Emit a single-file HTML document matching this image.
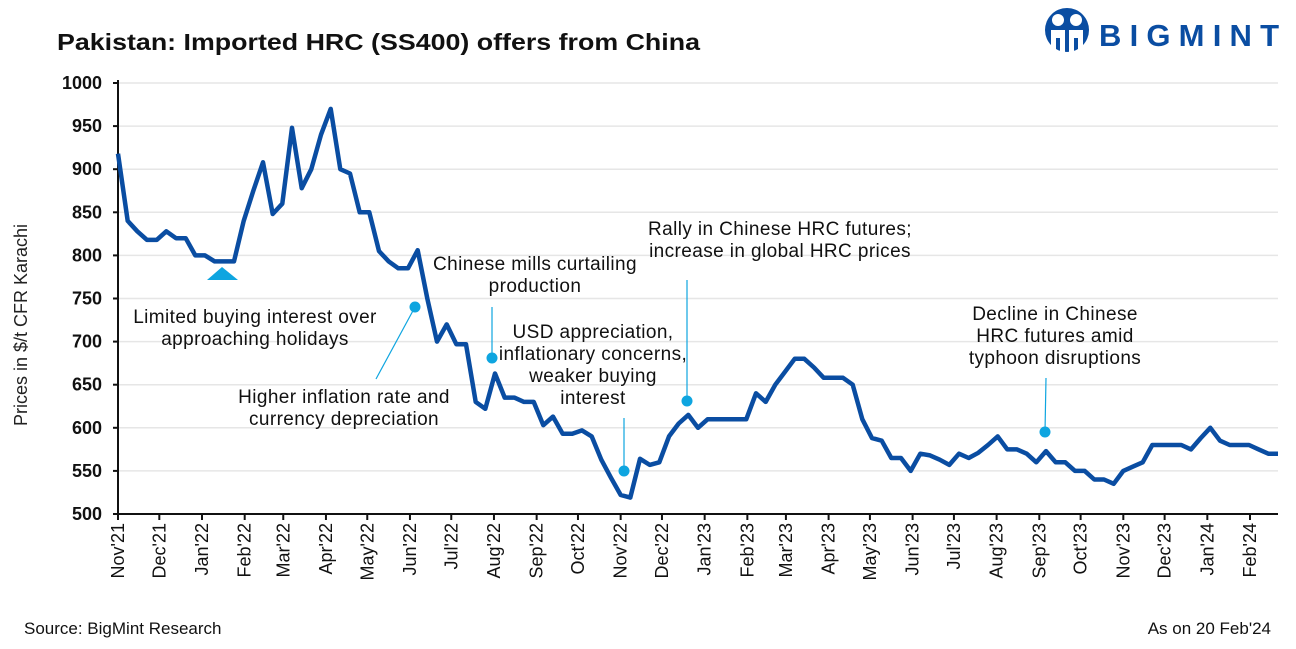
<!DOCTYPE html>
<html><head><meta charset="utf-8"><style>
html,body{margin:0;background:#fff;overflow:hidden;width:1296px;height:649px;}
svg{display:block;font-family:"Liberation Sans",sans-serif;}
</style></head><body>
<svg id="chart" width="1296" height="649" viewBox="0 0 1296 649">
<text x="57" y="50" font-size="23" font-weight="bold" fill="#111" textLength="643" lengthAdjust="spacingAndGlyphs">Pakistan: Imported HRC (SS400) offers from China</text>
<g>
<circle cx="1067" cy="30" r="22" fill="#0a4da2"/>
<circle cx="1058" cy="20" r="6" fill="#fff"/><circle cx="1076" cy="20" r="6" fill="#fff"/>
<path d="M1051 30 h14 v22 h-5 v-14 h-4 v14 h-5z M1069 30 h14 v22 h-5 v-14 h-4 v14 h-5z" fill="#fff"/>
<text x="1099" y="46" font-size="31" font-weight="bold" fill="#0a4da2" textLength="180" lengthAdjust="spacing">BIGMINT</text>
</g>
<text transform="translate(27,325) rotate(-90)" text-anchor="middle" font-size="18" fill="#222">Prices in $/t CFR Karachi</text>
<g id="grid"></g><g id="yticks"></g><g id="xticks"></g>
<g id="annots"></g>
<path id="line" fill="none" stroke="#0a4da2" stroke-width="4.5" stroke-linejoin="round"/>
<text x="24" y="634" font-size="17" fill="#111">Source: BigMint Research</text>
<text x="1271" y="634" font-size="17" fill="#111" text-anchor="end">As on 20 Feb'24</text>
</svg>
<script>
const prices=[918,840,828,818,818,828,820,820,800,800,793,793,793,840,875,908,848,860,948,878,900,940,970,900,895,850,850,805,793,785,785,806,750,700,720,697,697,630,622,663,635,635,630,630,603,613,593,593,597,590,563,542,522,519,564,557,560,590,605,615,600,610,610,610,610,610,640,630,650,665,680,680,670,658,658,658,650,610,588,585,565,565,550,570,568,563,557,570,565,571,580,590,575,575,570,560,573,560,560,550,550,540,540,535,550,555,560,580,580,580,580,575,588,600,585,580,580,580,575,570,570];
const yTicks=[500,550,600,650,700,750,800,850,900,950,1000];
const monthLabels=["Nov'21","Dec'21","Jan'22","Feb'22","Mar'22","Apr'22","May'22","Jun'22","Jul'22","Aug'22","Sep'22","Oct'22","Nov'22","Dec'22","Jan'23","Feb'23","Mar'23","Apr'23","May'23","Jun'23","Jul'23","Aug'23","Sep'23","Oct'23","Nov'23","Dec'23","Jan'24","Feb'24"];
const monthDays=[0,30,61,92,120,151,181,212,242,273,304,334,365,395,426,457,485,516,546,577,607,638,669,699,730,760,791,822];
const X0=118,X1=1278,Y0=514,Y1=83;
const STEP=(X1-X0)/(prices.length-1);
const y=v=>Y0-(v-500)/500*(Y0-Y1);
const xi=i=>X0+i*STEP;
const xd=d=>X0+d*9.64/7;
const NS="http://www.w3.org/2000/svg";
function mk(tag,attrs,parent,txt){const e=document.createElementNS(NS,tag);for(const k in attrs)e.setAttribute(k,attrs[k]);if(txt!==undefined)e.textContent=txt;parent.appendChild(e);return e;}
const g=document.getElementById('grid'),yt=document.getElementById('yticks'),xt=document.getElementById('xticks'),an=document.getElementById('annots');
yTicks.forEach(v=>{
 if(v>500){const l=mk('line',{x1:X0,x2:X1,y1:y(v),y2:y(v),stroke:'#e6e6e6','stroke-width':1.5},g);
 
 }
 const t=mk('line',{x1:X0-5,x2:X0,y1:y(v),y2:y(v),stroke:'#111','stroke-width':2},yt);
 
 
 const tx=mk('text',{x:102,y:y(v)+6,'text-anchor':'end','font-size':18,'font-weight':'bold',fill:'#111'},yt,String(v));
 
 
});
const ya=mk('line',{x1:X0,x2:X0,y1:Y1-3,y2:Y0,stroke:'#111','stroke-width':2},yt);


const xa=mk('line',{x1:X0,x2:X1,y1:Y0,y2:Y0,stroke:'#111','stroke-width':2},xt);


monthLabels.forEach((m,i)=>{const x=xd(monthDays[i]);
 const t=mk('line',{x1:x,x2:x,y1:Y0,y2:Y0+6,stroke:'#111','stroke-width':2},xt);
 
 
 const tx=mk('text',{transform:`translate(${x+6},${Y0+9}) rotate(-90)`,'text-anchor':'end','font-size':18,fill:'#111'},xt,m);
 
 
});
document.getElementById('line').setAttribute('d',prices.map((v,i)=>(i?'L':'M')+xi(i).toFixed(1)+' '+y(v).toFixed(1)).join(''));
const C='#0ea5e0';
const tri=mk('path',{d:'M207 280 L222 267 L238 280Z',fill:C},an);


[[415,307,376,379],[492,358,492,307],[624,471,624,418],[687,401,687,280],[1045,432,1046,378]].forEach(a=>{
 const l=mk('line',{x1:a[0],y1:a[1],x2:a[2],y2:a[3],stroke:C,'stroke-width':1.2},an);
 
 
 const c=mk('circle',{cx:a[0],cy:a[1],r:5.5,fill:C},an);
 
 
});
const notes=[[255,323,["Limited buying interest over","approaching holidays"]],[344,403,["Higher inflation rate and","currency depreciation"]],[535,270,["Chinese mills curtailing","production"]],[593,338,["USD appreciation,","inflationary concerns,","weaker buying","interest"]],[780,235,["Rally in Chinese HRC futures;","increase in global HRC prices"]],[1055,320,["Decline in Chinese","HRC futures amid","typhoon disruptions"]]];
notes.forEach(n=>{const t=mk('text',{x:n[0],y:n[1],'text-anchor':'middle','font-size':19,'letter-spacing':'0.4',fill:'#111'},an);
 
 
 n[2].forEach((s,k)=>mk('tspan',{x:n[0],dy:k?22:0},t,s));
});
</script>
</body></html>
